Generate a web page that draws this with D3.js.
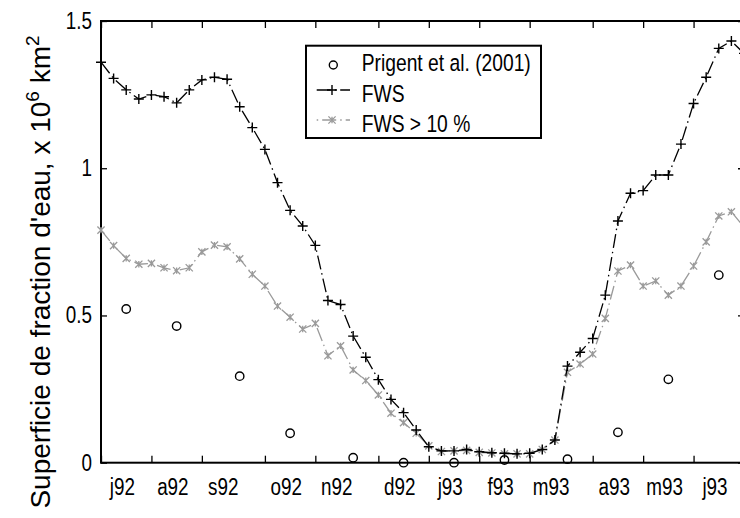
<!DOCTYPE html>
<html>
<head>
<meta charset="utf-8">
<script src="https://cdn.jsdelivr.net/npm/d3@7"></script>
<style>
  html, body { margin: 0; padding: 0; background: #fff; }
  svg { display: block; }
</style>
</head>
<body>
<svg id="chart" width="740" height="518"></svg>
<script>
// Month labels and the week index at which each month starts
const monthLabels = ["j92", "a92", "s92", "o92", "n92", "d92", "j93", "f93", "m93", "a93", "m93", "j93"];
const monthStarts = [0, 4, 8, 13, 17, 22, 26, 30, 34, 39, 43, 47];

// Weekly flooded-fraction surface (FWS), 10^6 km^2
const fws = [1.360, 1.305, 1.266, 1.235, 1.249, 1.243, 1.222, 1.266, 1.300, 1.309,
             1.302, 1.209, 1.138, 1.064, 0.951, 0.857, 0.804, 0.738, 0.551, 0.537,
             0.430, 0.358, 0.282, 0.215, 0.170, 0.111, 0.054, 0.040, 0.040, 0.045,
             0.037, 0.034, 0.032, 0.030, 0.032, 0.045, 0.077, 0.328, 0.375, 0.422,
             0.569, 0.821, 0.915, 0.924, 0.977, 0.977, 1.082, 1.220, 1.309, 1.407,
             1.432, 1.390];

// Weekly surface counting only pixels with FWS > 10 %
const fws10 = [0.790, 0.737, 0.694, 0.674, 0.677, 0.662, 0.652, 0.662, 0.716, 0.739,
               0.733, 0.692, 0.640, 0.600, 0.532, 0.494, 0.454, 0.473, 0.363, 0.397,
               0.315, 0.279, 0.230, 0.168, 0.136, 0.100, 0.057, 0.038, 0.040, 0.042,
               0.035, 0.033, 0.030, 0.030, 0.030, 0.045, 0.077, 0.307, 0.335, 0.369,
               0.490, 0.651, 0.671, 0.600, 0.617, 0.569, 0.600, 0.668, 0.750, 0.838,
               0.852, 0.800];

// Monthly estimates of Prigent et al. (2001), placed at mid-month weeks
const prigentWeeks = [2, 6, 11, 15, 20, 24, 28, 32, 37, 41, 45, 49];
const prigent = [0.522, 0.464, 0.294, 0.100, 0.017, 0.000, 0.000, 0.009, 0.012, 0.103, 0.283, 0.637];

const yTicks = [0, 0.5, 1, 1.5];
const yTickLabels = ["0", "0.5", "1", "1.5"];
const legendLabels = ["Prigent et al. (2001)", "FWS", "FWS > 10 %"];

const FONT = "'Liberation Sans', Arial, Helvetica, sans-serif";
const NARROW = 0.82;   // horizontal squeeze of the annotation text
const GREY = "#9a9a9a";
const DASH = "14,4,1.5,4";

const svg = d3.select("#chart");
const plotL = 101, plotR = 744, plotT = 21, plotB = 462.7;

const x = d3.scaleLinear().domain([0, 51]).range([plotL, plotR]);
const y = d3.scaleLinear().domain([0, 1.5]).range([plotB, plotT]);

// narrow text helper: anchored at (px, py)
function label(g, px, py, str, size, anchor) {
  return g.append("text")
    .attr("transform", `translate(${px},${py}) scale(${NARROW},1)`)
    .attr("text-anchor", anchor)
    .attr("font-family", FONT)
    .attr("font-size", size)
    .attr("fill", "#000")
    .text(str);
}

// ---- axes (box with inward ticks) ----
function styleAxis(g) {
  g.selectAll("text").remove();
  g.select(".domain").remove();
  g.selectAll(".tick line").attr("stroke", "#000").attr("stroke-width", 1.3);
}
const tickLen = 7;
svg.append("g").attr("transform", `translate(0,${plotB})`)
  .call(d3.axisBottom(x).tickValues(monthStarts).tickSize(-tickLen).tickSizeOuter(0))
  .call(styleAxis);
svg.append("g").attr("transform", `translate(0,${plotT})`)
  .call(d3.axisTop(x).tickValues(monthStarts).tickSize(-tickLen).tickSizeOuter(0))
  .call(styleAxis);
svg.append("g").attr("transform", `translate(${plotL},0)`)
  .call(d3.axisLeft(y).tickValues(yTicks).tickSize(-6).tickSizeOuter(0))
  .call(styleAxis);
svg.append("g").attr("transform", `translate(${plotR},0)`)
  .call(d3.axisRight(y).tickValues(yTicks).tickSize(-6).tickSizeOuter(0))
  .call(styleAxis);

svg.append("rect")
  .attr("x", plotL).attr("y", plotT)
  .attr("width", plotR - plotL).attr("height", plotB - plotT)
  .attr("fill", "none").attr("stroke", "#000").attr("stroke-width", 2);

// tick labels
const labels = svg.append("g");
monthLabels.forEach((m, i) => label(labels, x(monthStarts[i] + 1.7), 495, m, 23, "middle"));
yTicks.forEach((v, i) => label(labels, 92, y(v) + 8, yTickLabels[i], 23, "end"));

// y axis title
const yt = svg.append("text")
  .attr("transform", "translate(50,272) rotate(-90)")
  .attr("text-anchor", "middle")
  .attr("font-family", FONT)
  .attr("font-size", 28)
  .attr("fill", "#000");
yt.append("tspan").text("Superficie de fraction d'eau, x 10");
yt.append("tspan").attr("font-size", 19).attr("dy", -11).text("6");
yt.append("tspan").attr("dy", 11).text(" km");
yt.append("tspan").attr("font-size", 19).attr("dy", -11).text("2");

// ---- markers ----
function plusPath(cx, cy, s) {
  return `M${cx - s},${cy}H${cx + s}M${cx},${cy - s}V${cy + s}`;
}
function starPath(cx, cy, s) {
  const d = s * 0.8;
  return `M${cx - d},${cy - d}L${cx + d},${cy + d}M${cx - d},${cy + d}L${cx + d},${cy - d}` +
         `M${cx},${cy - s * 0.7}V${cy + s * 0.7}`;
}

const line = d3.line().x((d, i) => x(i)).y(d => y(d));

// FWS > 10 % (grey, dash-dot with asterisks)
svg.append("path").datum(fws10)
  .attr("d", line).attr("fill", "none")
  .attr("stroke", GREY).attr("stroke-width", 1.3).attr("stroke-dasharray", DASH);
svg.append("g").selectAll("path").data(fws10).join("path")
  .attr("d", (d, i) => starPath(x(i), y(d), 4.5))
  .attr("stroke", GREY).attr("stroke-width", 1.3).attr("fill", "none");

// FWS (black, dash-dot with plus signs)
svg.append("path").datum(fws)
  .attr("d", line).attr("fill", "none")
  .attr("stroke", "#000").attr("stroke-width", 1.3).attr("stroke-dasharray", DASH);
svg.append("g").selectAll("path").data(fws).join("path")
  .attr("d", (d, i) => plusPath(x(i), y(d), 5))
  .attr("stroke", "#000").attr("stroke-width", 1.4).attr("fill", "none");

// Prigent et al. (2001) circles
svg.append("g").selectAll("circle").data(prigent).join("circle")
  .attr("cx", (d, i) => x(prigentWeeks[i]))
  .attr("cy", d => y(d))
  .attr("r", 4.2)
  .attr("fill", "none").attr("stroke", "#000").attr("stroke-width", 1.4);

// ---- legend ----
const lg = svg.append("g");
lg.append("rect")
  .attr("x", 306).attr("y", 45.7).attr("width", 235).attr("height", 92.3)
  .attr("fill", "#fff").attr("stroke", "#000").attr("stroke-width", 2);
const rowsY = [71.3, 101.5, 131.7];
legendLabels.forEach((t, i) => label(lg, 361.7, rowsY[i], t, 23.5, "start"));

lg.append("circle").attr("cx", 333.3).attr("cy", 65).attr("r", 4)
  .attr("fill", "none").attr("stroke", "#000").attr("stroke-width", 1.4);

lg.append("path").attr("d", "M316.7,90H350")
  .attr("stroke", "#000").attr("stroke-width", 1.3).attr("stroke-dasharray", DASH);
lg.append("path").attr("d", plusPath(332, 90, 5))
  .attr("stroke", "#000").attr("stroke-width", 1.4);

lg.append("path").attr("d", "M316.7,120H350")
  .attr("stroke", GREY).attr("stroke-width", 1.3)
  .attr("stroke-dasharray", DASH).attr("stroke-dashoffset", 18);
lg.append("path").attr("d", starPath(332, 120, 4.5))
  .attr("stroke", GREY).attr("stroke-width", 1.3).attr("fill", "none");
</script>
</body>
</html>
